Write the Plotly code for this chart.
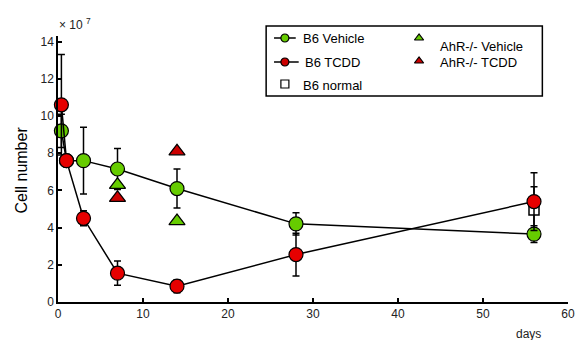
import plotly.graph_objects as go

# ---- data ----
veh_days = [0.4, 1, 3, 7, 14, 28, 56]
veh_cells = [9.2, 7.6, 7.6, 7.15, 6.1, 4.2, 3.65]
veh_err = [0.9, 0.3, 1.8, 1.1, 1.05, 0.6, 0.45]

tcdd_days = [0.4, 1, 3, 7, 14, 28, 56]
tcdd_cells = [10.6, 7.6, 4.5, 1.55, 0.85, 2.55, 5.4]
tcdd_err = [2.7, 0.3, 0.4, 0.65, 0.35, 1.15, 1.55]

ahr_veh_days = [7, 14]
ahr_veh_cells = [6.3, 4.35]
ahr_tcdd_days = [7, 14]
ahr_tcdd_cells = [5.6, 8.1]

normal_days = [56]
normal_cells = [4.95]
normal_err = [1.25]

x_ticks = [0, 10, 20, 30, 40, 50, 60]
y_ticks = [0, 2, 4, 6, 8, 10, 12, 14]

GREEN = "#66cc00"
RED = "#e60000"
DRED = "#cc0000"
FONT = "Liberation Sans, Arial, sans-serif"

# plot area in pixels
L, R, T, B = 58, 575, 36, 302


def px(xp):
    return (xp - L) / (R - L)


def py(yp):
    return (B - yp) / (B - T)


fig = go.Figure()

err_style = dict(type="data", color="black", thickness=1.5, width=3.5)

fig.add_trace(go.Scatter(x=normal_days, y=normal_cells, mode="markers",
                         error_y=dict(array=normal_err, **err_style),
                         marker=dict(symbol="square", size=10, color="white",
                                     line=dict(color="black", width=1.5)),
                         cliponaxis=False, showlegend=False))
fig.add_trace(go.Scatter(x=veh_days, y=veh_cells, mode="lines+markers",
                         error_y=dict(array=veh_err, **err_style),
                         line=dict(color="black", width=1.5),
                         marker=dict(symbol="circle", size=14, color=GREEN,
                                     line=dict(color="black", width=1.2)),
                         cliponaxis=False, showlegend=False))
fig.add_trace(go.Scatter(x=tcdd_days, y=tcdd_cells, mode="lines+markers",
                         error_y=dict(array=tcdd_err, **err_style),
                         line=dict(color="black", width=1.5),
                         marker=dict(symbol="circle", size=14, color=RED,
                                     line=dict(color="black", width=1.2)),
                         cliponaxis=False, showlegend=False))
fig.add_trace(go.Scatter(x=ahr_veh_days, y=ahr_veh_cells, mode="markers",
                         marker=dict(symbol="triangle-up", size=14, color=GREEN,
                                     line=dict(color="black", width=1.2)),
                         cliponaxis=False, showlegend=False))
fig.add_trace(go.Scatter(x=ahr_tcdd_days, y=ahr_tcdd_cells, mode="markers",
                         marker=dict(symbol="triangle-up", size=14, color=DRED,
                                     line=dict(color="black", width=1.2)),
                         cliponaxis=False, showlegend=False))

# ---- custom legend (overlay axes in pixel-like coordinates) ----
leg_names = ["B6 Vehicle", "B6 TCDD", "B6 normal", "AhR-/- Vehicle", "AhR-/- TCDD"]
leg_sym = ["circle", "circle", "square", "triangle-up", "triangle-up"]
leg_col = [GREEN, DRED, "white", GREEN, DRED]
leg_mx = [288, 288, 288, 424, 424]
leg_my = [38, 62, 84, 38, 61]
leg_tx = [304, 306, 304, 443, 443]
leg_ty = [39, 63, 85, 47, 62]
leg_line = [True, True, False, False, False]

for i in range(5):
    if leg_line[i]:
        fig.add_trace(go.Scatter(x=[leg_mx[i] - 11, leg_mx[i] + 11 + (3 if i == 1 else 0)],
                                 y=[leg_my[i], leg_my[i]], mode="lines",
                                 line=dict(color="black", width=1.5),
                                 xaxis="x2", yaxis="y2", cliponaxis=False,
                                 showlegend=False, hoverinfo="skip"))
    fig.add_trace(go.Scatter(x=[leg_mx[i]], y=[leg_my[i]], mode="markers",
                             marker=dict(symbol=leg_sym[i], size=8, color=leg_col[i],
                                         line=dict(color="black", width=1.2)),
                             xaxis="x2", yaxis="y2", cliponaxis=False,
                             showlegend=False, hoverinfo="skip"))
    fig.add_annotation(x=px(leg_tx[i]), y=py(leg_ty[i]), xref="paper", yref="paper",
                       text=leg_names[i], showarrow=False, xanchor="left",
                       yanchor="middle", font=dict(family=FONT, size=13, color="black"))

fig.add_shape(type="rect", x0=px(269), x1=px(549), y0=py(96), y1=py(26),
              xref="paper", yref="paper",
              line=dict(color="black", width=1.5), fillcolor="rgba(0,0,0,0)")

axis_common = dict(showline=True, linecolor="black", linewidth=1.5, ticks="inside",
                   ticklen=4, tickwidth=1.5, tickcolor="black", showgrid=False,
                   zeroline=False,
                   tickfont=dict(family=FONT, size=12, color="#222"))

fig.update_layout(
    width=581, height=340,
    margin=dict(l=L, r=581 - R, t=T, b=340 - B),
    paper_bgcolor="white", plot_bgcolor="white",
    xaxis=dict(range=[0, 60], tickvals=x_ticks, ticklabeloverflow="allow", **axis_common),
    yaxis=dict(range=[0, 14.3], tickvals=y_ticks, **axis_common),
    xaxis2=dict(range=[L, R], overlaying="x", visible=False, fixedrange=True),
    yaxis2=dict(range=[B, T], overlaying="y", visible=False, fixedrange=True),
)

fig.add_annotation(x=px(20), y=py(170), xref="paper", yref="paper", text="Cell number",
                   textangle=-90, showarrow=False, xanchor="center", yanchor="middle",
                   font=dict(family=FONT, size=16, color="black"))
fig.add_annotation(x=px(57), y=py(24), xref="paper", yref="paper", text="× 10 <sup>7</sup>",
                   showarrow=False, xanchor="left", yanchor="middle",
                   font=dict(family=FONT, size=12, color="#222"))
fig.add_annotation(x=px(535), y=py(334), xref="paper", yref="paper", text="days",
                   showarrow=False, xanchor="center", yanchor="middle",
                   font=dict(family=FONT, size=12, color="#222"))

page_fix = (
    "document.documentElement.style.margin='0';"
    "document.body.style.margin='0';"
)
fig.write_html("out.html", config={"displayModeBar": False, "responsive": False},
               post_script=page_fix)
